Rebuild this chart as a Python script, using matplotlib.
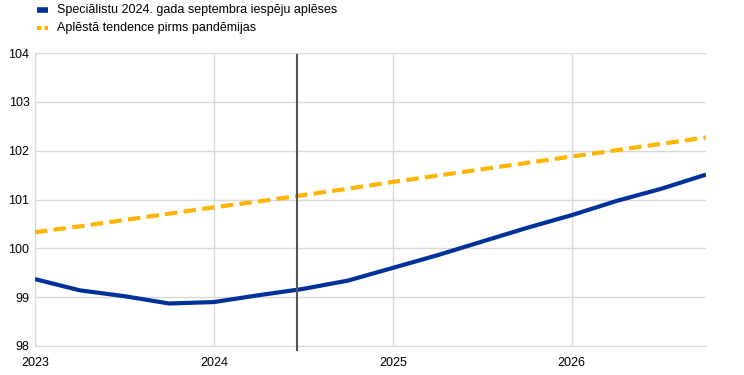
import matplotlib
matplotlib.use("Agg")
import matplotlib.pyplot as plt
from matplotlib.lines import Line2D

plt.rcParams['font.family'] = ['Liberation Sans', 'DejaVu Sans']

quarters = [2023.0, 2023.25, 2023.5, 2023.75, 2024.0, 2024.25, 2024.5, 2024.75,
            2025.0, 2025.25, 2025.5, 2025.75, 2026.0, 2026.25, 2026.5, 2026.75]
projections = [99.37, 99.14, 99.02, 98.87, 98.90, 99.04, 99.17, 99.34,
               99.60, 99.86, 100.14, 100.42, 100.68, 100.97, 101.22, 101.51]
trend = [100.33, 100.45, 100.58, 100.71, 100.84, 100.96, 101.09, 101.22,
         101.36, 101.49, 101.62, 101.75, 101.88, 102.01, 102.14, 102.27]
cutoff = 2024.465
x_ticks = [2023, 2024, 2025, 2026]
y_ticks = [98, 99, 100, 101, 102, 103, 104]
labels = ["Speciālistu 2024. gada septembra iespēju aplēses",
          "Aplēstā tendence pirms pandēmijas"]

blue = "#003299"
yellow = "#FFB400"
grid = "#D9D9D9"

W, H = 744, 375
fig = plt.figure(figsize=(7.44, 3.75), dpi=100)
ax = fig.add_axes([35/W, 1-346/H, (706-35)/W, (346-53)/H])

ax.plot(quarters, projections, color=blue, lw=3, solid_capstyle='butt', zorder=3)
ax.plot(quarters, trend, color=yellow, lw=3, dashes=(3, 1.5), zorder=3)
ax.plot([cutoff, cutoff], [103.96, 97.92], color="#555555", lw=1.5, zorder=4, clip_on=False)

ax.set_xlim(2023, 2026.75)
ax.set_ylim(98, 104)
ax.set_xticks(x_ticks)
ax.set_xticklabels([str(t) for t in x_ticks])
ax.set_yticks(y_ticks)
ax.tick_params(length=0, labelsize=9, colors="#000000")
ax.tick_params(axis='x', pad=8)
ax.tick_params(axis='y', pad=4)
ax.grid(True, color=grid, lw=1)
ax.set_axisbelow(True)
for s in ['top', 'right']:
    ax.spines[s].set_visible(False)
ax.spines['left'].set_color(grid)
ax.spines['bottom'].set_color(grid)

# legend drawn manually
rows_y = [10, 28]
fig.add_artist(Line2D([37/W, 48/W], [1-rows_y[0]/H]*2, color=blue, lw=4,
                      solid_capstyle='butt', transform=fig.transFigure))
fig.add_artist(Line2D([37/W, 48/W], [1-rows_y[1]/H]*2, color=yellow, lw=3,
                      dashes=(1, 0.8), transform=fig.transFigure))
for y, lab in zip(rows_y, labels):
    fig.text(57/W, 1-y/H, lab, fontsize=9, va='center', ha='left')

fig.savefig("out.png", dpi=100)
